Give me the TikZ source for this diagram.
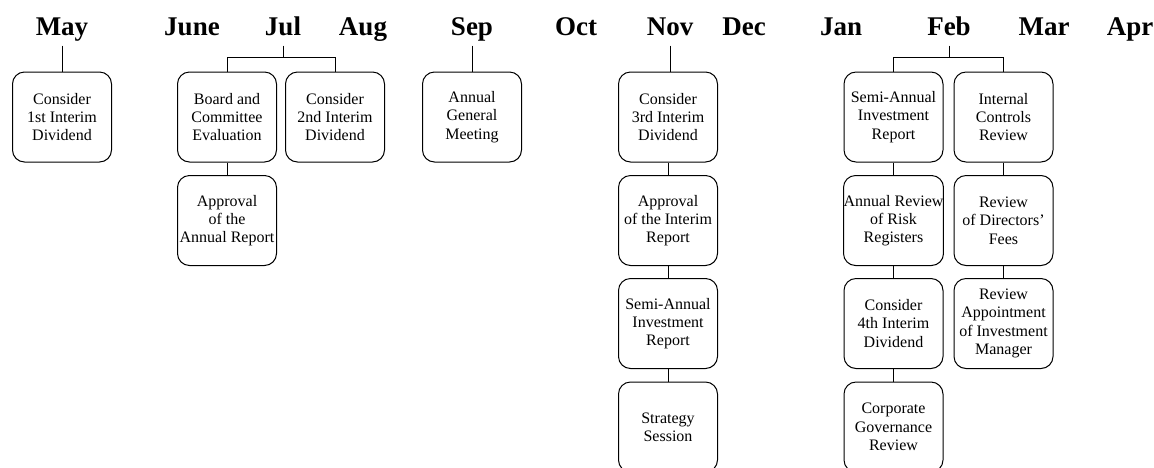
\documentclass[tikz,border=0pt]{standalone}
\usepackage{fontspec}
\setmainfont{Liberation Serif}
\usetikzlibrary{positioning}

\begin{document}
\begin{tikzpicture}[x=1pt, y=-1pt, line width=1pt,
        month/.style={font=\fontsize{27}{30}\selectfont\bfseries, anchor=base, text height=18pt, text depth=7pt, inner sep=3pt},
        task/.style={draw, rounded corners=12pt, minimum width=99pt, minimum height=90pt, inner xsep=0pt, align=center, font=\fontsize{16}{18.3}\selectfont}]
    \useasboundingbox (0, 0) rectangle (1154, 467);

    % months
    \node[month] (may) at (62, 35) {May};
    \node[month] (jun) at (192, 35) {June};
    \node[month] (jul) at (283, 35) {Jul};
    \node[month] (aug) at (363, 35) {Aug};
    \node[month] (sep) at (472, 35) {Sep};
    \node[month] (oct) at (576, 35) {Oct};
    \node[month] (nov) at (670, 35) {Nov};
    \node[month] (dec) at (744, 35) {Dec};
    \node[month] (jan) at (841, 35) {Jan};
    \node[month] (feb) at (949, 35) {Feb};
    \node[month] (mar) at (1044, 35) {Mar};
    \node[month] (apr) at (1130, 35) {Apr};

    % tasks
    \node[task] (div1) at (62, 117) {Consider\\1st Interim\\Dividend};
    \node[task] (eval) at (227, 117) {Board and\\Committee\\Evaluation};
    \node[task] (annrep) at (227, 220.5) {Approval\\of the\\Annual Report};
    \node[task] (div2) at (335, 117) {Consider\\2nd Interim\\Dividend};
    \node[task] (agm) at (472, 117) {Annual\\General\\Meeting};
    \node[task] (div3) at (668, 117) {Consider\\3rd Interim\\Dividend};
    \node[task] (intrep) at (668, 220.5) {Approval\\of the Interim\\Report};
    \node[task] (invrepa) at (668, 323.5) {Semi-Annual\\Investment\\Report};
    \node[task] (strat) at (668, 427) {Strategy\\Session};
    \node[task] (invrepb) at (893.5, 117) {Semi-Annual\\Investment\\Report};
    \node[task] (risk) at (893.5, 220.5) {Annual Review\\of Risk\\Registers};
    \node[task] (div4) at (893.5, 323.5) {Consider\\4th Interim\\Dividend};
    \node[task] (gov) at (893.5, 427) {Corporate\\Governance\\Review};
    \node[task] (ctrl) at (1003.5, 117) {Internal\\Controls\\Review};
    \node[task] (fees) at (1003.5, 220.5) {Review\\of Directors'\\Fees};
    \node[task] (mgr) at (1003.5, 323.5) {Review\\Appointment\\of Investment\\Manager};

    \coordinate (julbar) at (283, 57);
    \coordinate (febbar) at (949, 57);

    \draw
    (may.south) edge (div1)
    (sep.south) edge (agm)
    (nov.south |- sep.south) edge (div3.north -| nov.south)
    (eval) edge (annrep)
    (div3) edge (intrep)
    (intrep) edge (invrepa)
    (invrepa) edge (strat)
    (invrepb) edge (risk)
    (risk) edge (div4)
    (div4) edge (gov)
    (ctrl) edge (fees)
    (fees) edge (mgr);

    \draw (jul.south) -- (julbar) -| (eval.north) (julbar) -| (div2.north);
    \draw (feb.south) -- (febbar) -| (invrepb.north) (febbar) -| (ctrl.north);
\end{tikzpicture}
\end{document}
